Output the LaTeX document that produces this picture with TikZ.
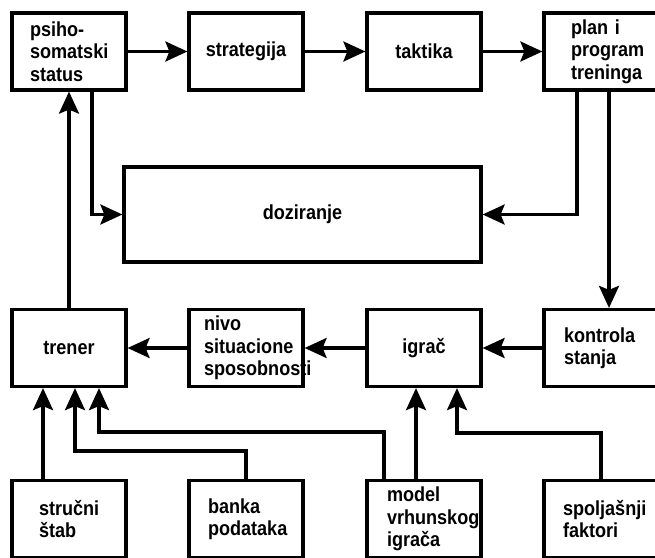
\documentclass[tikz,border=0pt]{standalone}
\usepackage{fontspec}
\setmainfont{Liberation Sans}[FakeStretch=0.89]
\usetikzlibrary{arrows.meta}

\begin{document}
\begin{tikzpicture}
[
x=1pt, y=-1pt,
box/.style={
% The shape:
rectangle,
% The size:
minimum width=114pt,
minimum height=77pt,
% The border:
line width=3.2pt,
draw=black,
% The text:
font=\fontsize{20.3}{22.5}\selectfont\bfseries,
},
lbox/.style 2 args={
box,
% left aligned text, with its own margin
align=left,
inner xsep=#1pt,
text width=#2pt,
},
arr/.style={
-{Stealth[length=22pt, width=20pt, inset=4pt]},
line width=3.2pt,
}
]
    \useasboundingbox (0,0) rectangle (655,557);
    \clip (0,0) rectangle (655,557);
    % top row
    \node[lbox={18}{78}] (psiho) at (69, 51.5) {psiho-\\somatski\\status};
    \node[box] (strategija) at (246, 51.5) {strategija};
    \node[box] (taktika) at (424, 51.5) {taktika};
    \node[lbox={27}{60}] (plan) at (601, 51.5) {plan i\\program\\treninga};
    % middle
    \node[box, minimum width=357pt, minimum height=95pt] (doziranje) at (302.5, 214.5) {doziranje};
    % second row
    \node[box] (trener) at (69, 348) {trener};
    \node[lbox={15}{84}] (nivo) at (246, 348) {nivo\\situacione\\sposobnosti};
    \node[box] (igrac) at (424, 348) {igrač};
    \node[lbox={20}{74}] (kontrola) at (601, 348) {kontrola\\stanja};
    % bottom row
    \node[lbox={27}{60}] (strucni) at (69, 519) {stručni\\štab};
    \node[lbox={19}{76}] (banka) at (246, 519) {banka\\podataka};
    \node[lbox={20}{74}] (model) at (424, 519) {model\\vrhunskog\\igrača};
    \node[lbox={19}{76}] (spoljasnji) at (601, 519) {spoljašnji\\faktori};
    % top row arrows
    \draw[arr] (psiho.east) -- (strategija.west);
    \draw[arr] (strategija.east) -- (taktika.west);
    \draw[arr] (taktika.east) -- (plan.west);
    \draw[arr] ([xshift=23pt]psiho.south) |- (doziranje.west);
    \draw[arr] ([xshift=-24pt]plan.south) |- (doziranje.east);
    \draw[arr] ([xshift=8pt]plan.south) -- ([xshift=8pt]kontrola.north);
    % second row arrows
    \draw[arr] (trener.north) -- (psiho.south);
    \draw[arr] (kontrola.west) -- (igrac.east);
    \draw[arr] (igrac.west) -- (nivo.east);
    \draw[arr] (nivo.west) -- (trener.east);
    % bottom row arrows
    \draw[arr] ([xshift=-26pt]strucni.north) -- ([xshift=-26pt]trener.south);
    \draw[arr] (banka.north) -- ++(0,-28) -| ([xshift=6pt]trener.south);
    \draw[arr] ([xshift=-40pt]model.north) -- ++(0,-47) -| ([xshift=30pt]trener.south);
    \draw[arr] ([xshift=-8pt]model.north) -- ([xshift=-8pt]igrac.south);
    \draw[arr] (spoljasnji.north) -- ++(0,-46) -| ([xshift=33pt]igrac.south);
\end{tikzpicture}
\end{document}
